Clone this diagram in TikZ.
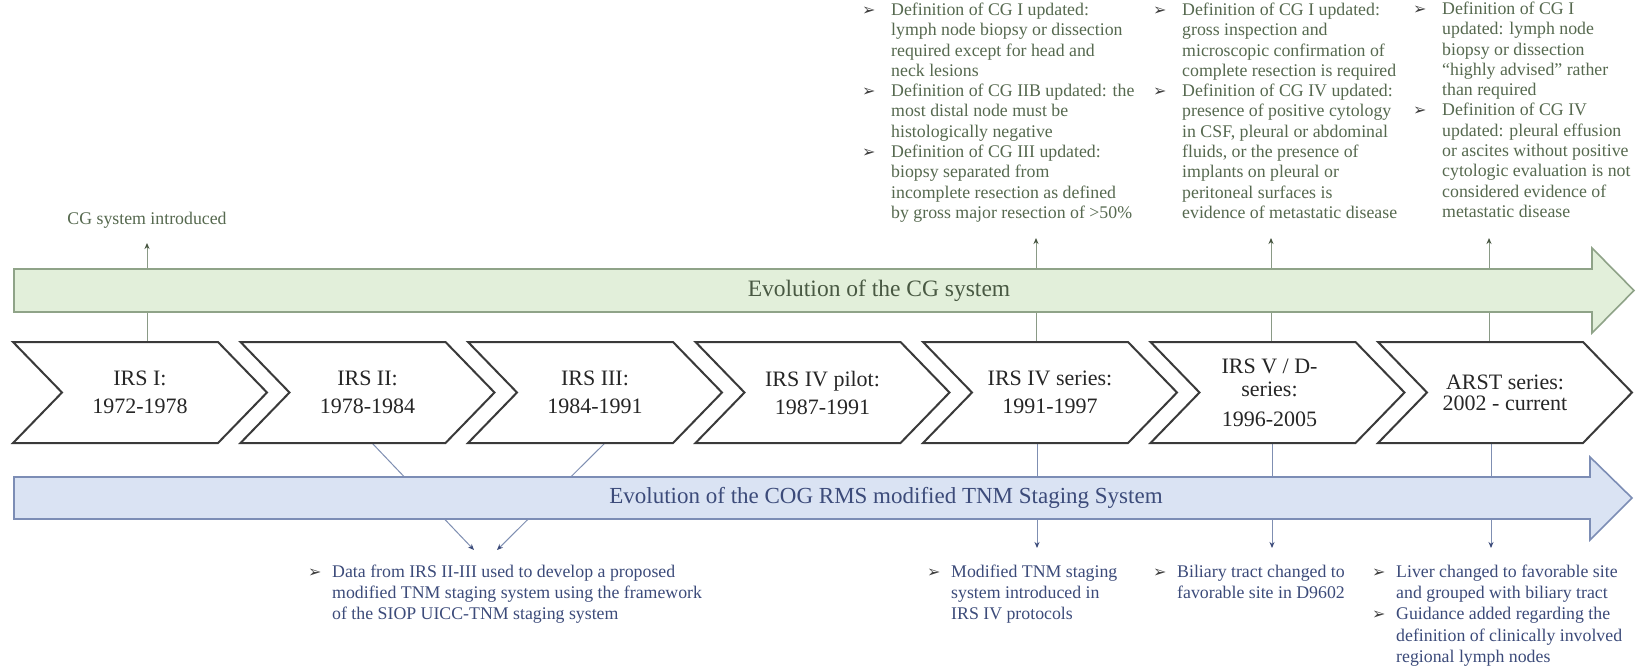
\documentclass[tikz,border=0pt]{standalone}
\usepackage{fontspec}
\setmainfont{Liberation Serif}
\newfontfamily\dejavu{DejaVu Sans}
\usetikzlibrary{arrows.meta}
\definecolor{gtext}{HTML}{56694F}
\definecolor{btext}{HTML}{3C4B7A}
\definecolor{gfill}{HTML}{E2EFDA}
\definecolor{gdraw}{HTML}{8FA388}
\definecolor{bfill}{HTML}{DAE3F3}
\definecolor{bdraw}{HTML}{7C8DB5}
\definecolor{gline}{HTML}{8A9A86}
\definecolor{bline}{HTML}{7F8FB2}
\definecolor{chevdraw}{HTML}{3A3A3A}
\newcommand\ubul{\makebox[29pt][l]{\dejavu\fontsize{16}{16}\selectfont\textcolor{black!75}{➢}}}
\newcommand\lbul{\makebox[24pt][l]{\dejavu\fontsize{16}{16}\selectfont\textcolor{black!75}{➢}}}
\newcommand\uplist[1]{\fontsize{17.8}{20.3}\selectfont\begin{tabular}{@{}l@{}l@{}}#1\end{tabular}}
\newcommand\lowlist[1]{\fontsize{17.8}{21.4}\selectfont\begin{tabular}{@{}l@{}l@{}}#1\end{tabular}}
\tikzset{
  chev/.style={draw=chevdraw, line width=2pt, fill=white, line join=miter},
  chevtext/.style={align=center, font=\fontsize{22}{28}\selectfont, text=black!85, inner sep=0pt},
  upconn/.style={draw=gline, line width=1pt, -{Stealth[length=6pt,width=5pt,color=gtext!80!black]}},
  lowconn/.style={draw=bline, line width=1pt, -{Stealth[length=6pt,width=5pt,color=btext]}},
  gbar/.style={draw=gdraw, fill=gfill, line width=1.6pt, line join=miter},
  bbar/.style={draw=bdraw, fill=bfill, line width=1.6pt, line join=miter},
  uptext/.style={text=gtext, inner sep=0pt, anchor=north west},
  lowtext/.style={text=btext, inner sep=0pt, anchor=north west},
}
\newcommand\chevron[4]{%
  \draw[chev] (#2,342) -- ++(205,0) -- ++(49,50.5) -- ++(-49,50.5) -- ++(-205,0) -- ++(49,-50.5) -- cycle;
  \node[chevtext,#4] (#1) at ({#2+127},392.5) {#3};}
\begin{document}
\begin{tikzpicture}[x=1pt,y=-1pt]
\useasboundingbox (0,0) rectangle (1637,669);
\fill[white] (0,0) rectangle (1637,669);

% connector end points
\coordinate (c1t) at (147,342);  \coordinate (u1) at (147,243);
\coordinate (c5t) at (1036,342); \coordinate (u2) at (1036,238);
\coordinate (c6t) at (1271,342); \coordinate (u3) at (1271,238);
\coordinate (c7t) at (1489,342); \coordinate (u4) at (1489,238);
\coordinate (c2b) at (372,443);  \coordinate (l1a) at (474,550);
\coordinate (c3b) at (605,443);  \coordinate (l1b) at (497,550);
\coordinate (c5b) at (1037,443); \coordinate (l2) at (1037,548);
\coordinate (c6b) at (1272,443); \coordinate (l3) at (1272,548);
\coordinate (c7b) at (1491,443); \coordinate (l4) at (1491,548);

% connectors (behind the bars)
\draw[upconn] (c1t) -- (u1);
\draw[upconn] (c5t) -- (u2);
\draw[upconn] (c6t) -- (u3);
\draw[upconn] (c7t) -- (u4);
\draw[lowconn] (c2b) -- (l1a);
\draw[lowconn] (c3b) -- (l1b);
\draw[lowconn] (c5b) -- (l2);
\draw[lowconn] (c6b) -- (l3);
\draw[lowconn] (c7b) -- (l4);

% bars
\draw[gbar] (14,269) -- (1592,269) -- (1592,248) -- (1634,290.5) -- (1592,333) -- (1592,312) -- (14,312) -- cycle;
\node[text=gtext!85!black, font=\fontsize{23.5}{28}\selectfont, inner sep=0pt] (cgbar) at (879,290.5) {Evolution of the CG system};
\draw[bbar] (14,477) -- (1590,477) -- (1590,457) -- (1632,498) -- (1590,540) -- (1590,519) -- (14,519) -- cycle;
\node[text=btext, font=\fontsize{23}{28}\selectfont, inner sep=0pt] (tnmbar) at (886,498) {Evolution of the COG RMS modified TNM Staging System};

% chevrons
\chevron{irs1}{13}{IRS I:\\1972-1978}{}
\chevron{irs2}{240.5}{IRS II:\\1978-1984}{}
\chevron{irs3}{468}{IRS III:\\1984-1991}{}
\chevron{irs4p}{695.5}{IRS IV pilot:\\1987-1991}{}
\chevron{irs4s}{923}{IRS IV series:\\1991-1997}{}
\chevron{irs5}{1150.5}{IRS V / D-\\series:\\[7pt]1996-2005}{font=\fontsize{22}{23}\selectfont, xshift=-8pt}
\chevron{arst}{1378}{ARST series:\\2002 - current}{font=\fontsize{22}{21}\selectfont}

% upper texts
\node[text=gtext, inner sep=0pt, anchor=base, font=\fontsize{17.8}{21.6}\selectfont] (t1) at (147,224) {CG system introduced};
\node[uptext] (t2) at (862,1) {\uplist{%
\ubul & Definition of CG I updated:\\
 & lymph node biopsy or dissection\\
 & required except for head and\\
 & neck lesions\\
\ubul & Definition of CG IIB updated: the\\
 & most distal node must be\\
 & histologically negative\\
\ubul & Definition of CG III updated:\\
 & biopsy separated from\\
 & incomplete resection as defined\\
 & by gross major resection of >50\%}};
\node[uptext] (t3) at (1153,1) {\uplist{%
\ubul & Definition of CG I updated:\\
 & gross inspection and\\
 & microscopic confirmation of\\
 & complete resection is required\\
\ubul & Definition of CG IV updated:\\
 & presence of positive cytology\\
 & in CSF, pleural or abdominal\\
 & fluids, or the presence of\\
 & implants on pleural or\\
 & peritoneal surfaces is\\
 & evidence of metastatic disease}};
\node[uptext] (t4) at (1413,0) {\uplist{%
\ubul & Definition of CG I\\
 & updated: lymph node\\
 & biopsy or dissection\\
 & “highly advised” rather\\
 & than required\\
\ubul & Definition of CG IV\\
 & updated: pleural effusion\\
 & or ascites without positive\\
 & cytologic evaluation is not\\
 & considered evidence of\\
 & metastatic disease}};

% lower texts
\node[lowtext] (b1) at (308,562) {\lowlist{%
\lbul & Data from IRS II-III used to develop a proposed\\
 & modified TNM staging system using the framework\\
 & of the SIOP UICC-TNM staging system}};
\node[lowtext] (b2) at (927,562) {\lowlist{%
\lbul & Modified TNM staging\\
 & system introduced in\\
 & IRS IV protocols}};
\node[lowtext] (b3) at (1153,562) {\lowlist{%
\lbul & Biliary tract changed to\\
 & favorable site in D9602}};
\node[lowtext] (b4) at (1372,562) {\lowlist{%
\lbul & Liver changed to favorable site\\
 & and grouped with biliary tract\\
\lbul & Guidance added regarding the\\
 & definition of clinically involved\\
 & regional lymph nodes}};
\end{tikzpicture}
\end{document}
